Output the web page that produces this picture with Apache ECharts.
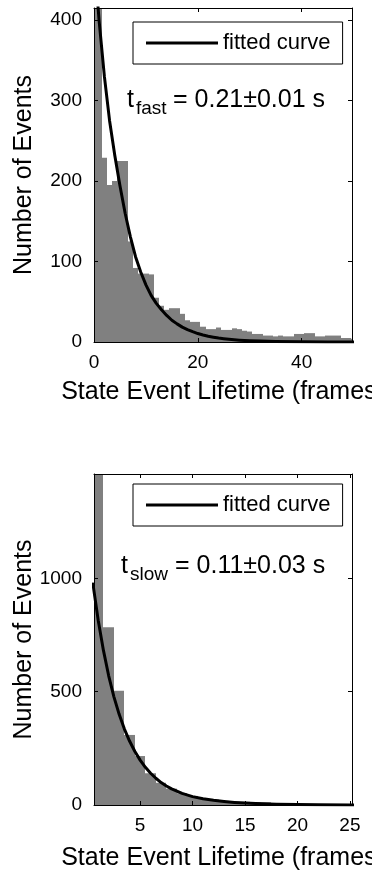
<!DOCTYPE html>
<html>
<head>
<meta charset="utf-8">
<script src="https://cdn.jsdelivr.net/npm/echarts@6/dist/echarts.min.js"></script>
<style>
  html, body { margin: 0; padding: 0; background: #ffffff; }
  #chart { width: 372px; height: 873px; }
</style>
</head>
<body>
<div id="chart"></div>
<script>
// ---- Fast state: lifetime histogram (bin centres in frames, 1-frame bins) ----
const fastBinCenters = [0, 1, 2, 3, 4, 5, 6, 7, 8, 9, 10, 11, 12, 13, 14, 15, 16, 17, 18, 19, 20,
  21, 22, 23, 24, 25, 26, 27, 28, 29, 30, 31, 32, 33, 34, 35, 36, 37, 38, 39, 40,
  41, 42, 43, 44, 45, 46, 47, 48, 49, 50];
const fastCounts = [480, 520, 229, 195, 200, 225, 225, 125, 92, 85, 85, 84, 55, 45, 40, 42, 42, 35, 27, 25, 25,
  19, 16, 16, 18, 15, 15, 17, 16, 14, 13, 10, 10, 8, 8, 7, 8, 7, 7, 10, 10,
  11, 11, 7, 7, 8, 8, 8, 5, 5, 4];
// fitted exponential for the fast state
const fastFitX = [0, 1, 2, 3, 4, 5, 6, 7, 8, 9, 10, 11, 12, 13, 14, 15, 16, 17, 18, 19, 20,
  21, 22, 23, 24, 25, 26, 27, 28, 29, 30, 32, 35, 40, 45, 50];
const fastFitY = [480, 398, 330, 275, 232, 194, 160, 131, 106, 87, 71, 58, 48, 40, 33, 27, 22.5, 18.5, 15.5, 12.8, 10.5,
  8.7, 7.2, 6, 4.9, 4.1, 3.4, 2.8, 2.3, 1.9, 1.6, 1.1, 0.6, 0.25, 0.1, 0.04];
const fastXTicks = [0, 20, 40];
const fastYTicks = [0, 100, 200, 300, 400];

// ---- Slow state ----
const slowBinCenters = [1, 2, 3, 4, 5, 6, 7, 8, 9, 10, 11, 12, 13, 14, 15, 16, 17, 18, 19, 20, 21, 22, 23, 24, 25];
const slowCounts = [1700, 784, 504, 309, 216, 140, 98, 72, 52, 40, 30, 24, 18, 15, 14, 13, 12, 4, 3, 2, 2, 1, 1, 1, 1];
const slowFitX = [0.5, 1, 1.5, 2, 2.5, 3, 3.5, 4, 4.5, 5, 5.5, 6, 6.5, 7, 7.5, 8, 9, 10, 11, 12, 13, 14, 15, 16, 18, 20, 22, 25, 26];
const slowFitY = [975, 815, 682, 570, 477, 400, 335, 281, 236, 198, 166, 140, 118, 99, 84, 71, 51, 37, 27.5, 20.5, 15.5, 11.5, 8.5, 6.3, 3.4, 1.8, 1, 0.4, 0.3];
const slowXTicks = [5, 10, 15, 20, 25];
const slowYTicks = [0, 500, 1000];

const fitName = 'fitted curve';
const xTitle = 'State Event Lifetime (frames)';
const yTitle = 'Number of Events';
const fastNote = { t: 't', sub: 'fast', rest: '= 0.21\u00b10.01 s' };
const slowNote = { t: 't', sub: 'slow', rest: '= 0.11\u00b10.03 s' };

const FONT = '"Liberation Sans", Arial, Helvetica, sans-serif';
const BAR_GRAY = '#808080';

function binData(centers, counts) {
  return centers.map((c, i) => [c - 0.5, c + 0.5, counts[i]]);
}
function pairs(xs, ys) {
  return xs.map((x, i) => [x, ys[i]]);
}

function histItem(params, api) {
  const start = api.coord([api.value(0), api.value(2)]);
  const end = api.coord([api.value(1), 0]);
  const x0 = Math.round(start[0]), x1 = Math.round(end[0]);
  const shape = echarts.graphic.clipRectByRect(
    { x: x0, y: start[1], width: x1 - x0, height: end[1] - start[1] },
    { x: params.coordSys.x, y: params.coordSys.y, width: params.coordSys.width, height: params.coordSys.height }
  );
  return shape && { type: 'rect', shape: shape, style: { fill: BAR_GRAY } };
}

const plainNumber = v => String(v);

function bottomAxis(gridIndex, min, max, ticks, nameGap) {
  return {
    type: 'value', gridIndex, min, max, position: 'bottom', z: 5,
    axisLine: { show: true, onZero: false, lineStyle: { color: '#000', width: 1 } },
    axisTick: { show: true, inside: true, length: 4, customValues: ticks, lineStyle: { color: '#000' } },
    axisLabel: { show: true, customValues: ticks, formatter: plainNumber, margin: 11, color: '#000', fontSize: 19, fontFamily: FONT },
    splitLine: { show: false },
    name: xTitle, nameLocation: 'middle', nameGap, nameMoveOverlap: false,
    nameTextStyle: { fontSize: 25, color: '#000', fontFamily: FONT }
  };
}
function topAxis(gridIndex, min, max, ticks) {
  return {
    type: 'value', gridIndex, min, max, position: 'top', z: 5,
    axisLine: { show: true, onZero: false, lineStyle: { color: '#000', width: 1 } },
    axisTick: { show: true, inside: true, length: 4, customValues: ticks, lineStyle: { color: '#000' } },
    axisLabel: { show: false },
    splitLine: { show: false }
  };
}
function leftAxis(gridIndex, max, ticks) {
  return {
    type: 'value', gridIndex, min: 0, max, position: 'left', z: 5,
    axisLine: { show: true, onZero: false, lineStyle: { color: '#000', width: 1 } },
    axisTick: { show: true, inside: true, length: 4, customValues: ticks, lineStyle: { color: '#000' } },
    axisLabel: { show: true, customValues: ticks, formatter: plainNumber, margin: 12, color: '#000', fontSize: 19, fontFamily: FONT },
    splitLine: { show: false },
    name: yTitle, nameLocation: 'middle', nameGap: 57, nameRotate: 90, nameMoveOverlap: false,
    nameTextStyle: { fontSize: 25, color: '#000', fontFamily: FONT }
  };
}
function rightAxis(gridIndex, max, ticks) {
  return {
    type: 'value', gridIndex, min: 0, max, position: 'right', z: 5,
    axisLine: { show: true, onZero: false, lineStyle: { color: '#000', width: 1 } },
    axisTick: { show: true, inside: true, length: 4, customValues: ticks, lineStyle: { color: '#000' } },
    axisLabel: { show: false },
    splitLine: { show: false }
  };
}
function legendBox(top) {
  return {
    show: true, left: 133, top, orient: 'horizontal',
    data: [fitName], selectedMode: false,
    icon: 'rect', itemWidth: 72, itemHeight: 3,
    padding: [10, 12, 10, 13],
    borderColor: '#000', borderWidth: 1, backgroundColor: '#fff',
    textStyle: { fontSize: 22, color: '#000', fontFamily: FONT }
  };
}
function note(n, x, y) {
  return [
    { type: 'text', x: x, y: y, z: 100, style: { text: n.t, fontSize: 25, fontFamily: FONT, fill: '#000', verticalAlign: 'middle', align: 'left' } },
    { type: 'text', x: x + 9, y: y + 9, z: 100, style: { text: n.sub, fontSize: 19, fontFamily: FONT, fill: '#000', verticalAlign: 'middle', align: 'left' } },
    { type: 'text', x: x + (n.sub === 'fast' ? 46 : 54), y: y, z: 100, style: { text: n.rest, fontSize: 25, fontFamily: FONT, fill: '#000', verticalAlign: 'middle', align: 'left' } }
  ];
}

function fitSeries(xs, ys, axisIndex) {
  return {
    name: fitName, type: 'line', xAxisIndex: axisIndex, yAxisIndex: axisIndex, z: 3,
    data: pairs(xs, ys), showSymbol: false, symbol: 'none',
    smooth: false, clip: true,
    lineStyle: { color: '#000', width: 3, join: 'round', cap: 'round' }, itemStyle: { color: '#000' }
  };
}

const chart = echarts.init(document.getElementById('chart'), null, { renderer: 'canvas' });
chart.setOption({
  animation: false,
  backgroundColor: '#fff',
  grid: [
    { left: 94, top: 8, width: 258, height: 334, show: false, containLabel: false, outerBoundsMode: 'none' },
    { left: 94, top: 474, width: 258, height: 331, show: false, containLabel: false, outerBoundsMode: 'none' }
  ],
  xAxis: [
    bottomAxis(0, 0, 49.7, fastXTicks, 38),
    topAxis(0, 0, 49.7, fastXTicks),
    bottomAxis(1, 0.6, 25.2, slowXTicks, 41),
    topAxis(1, 0.6, 25.2, slowXTicks)
  ],
  yAxis: [
    leftAxis(0, 415, fastYTicks),
    rightAxis(0, 415, fastYTicks),
    leftAxis(1, 1460, slowYTicks),
    rightAxis(1, 1460, slowYTicks)
  ],
  legend: [legendBox(22), legendBox(484)],
  series: [
    {
      name: 'fast events', type: 'custom', xAxisIndex: 0, yAxisIndex: 0, z: 2,
      renderItem: histItem, encode: { x: [0, 1], y: 2 },
      data: binData(fastBinCenters, fastCounts)
    },
    fitSeries(fastFitX, fastFitY, 0),
    {
      name: 'slow events', type: 'custom', xAxisIndex: 2, yAxisIndex: 2, z: 2,
      renderItem: histItem, encode: { x: [0, 1], y: 2 },
      data: binData(slowBinCenters, slowCounts)
    },
    fitSeries(slowFitX, slowFitY, 2)
  ],
  graphic: note(fastNote, 127, 100).concat(note(slowNote, 121, 566))
});
</script>
</body>
</html>
